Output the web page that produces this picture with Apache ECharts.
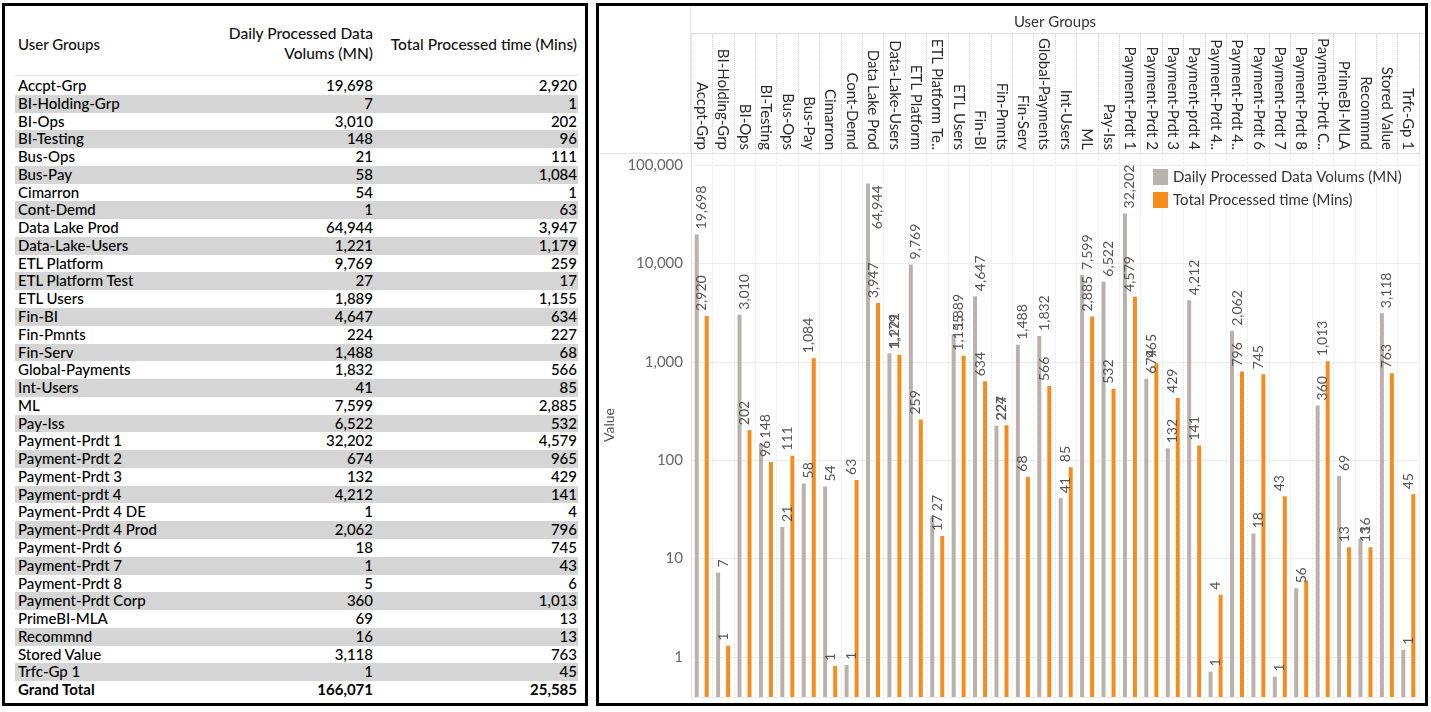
<!DOCTYPE html>
<html>
<head>
<meta charset="utf-8">
<script src="https://cdn.jsdelivr.net/npm/echarts@6/dist/echarts.min.js"></script>
<style>
html,body{margin:0;padding:0;width:1431px;height:712px;overflow:hidden;background:#fff;font-family:Lato,"Noto Sans",sans-serif;}
.panel{position:absolute;border:3px solid #000;box-sizing:border-box;}
#tbl{position:absolute;left:0;top:0;width:600px;height:712px;}
.row{position:absolute;left:15px;width:563px;height:17.77px;line-height:17.77px;font-size:15px;font-weight:500;color:#000;white-space:nowrap;}
.row span{position:absolute;top:0;}
.hdr{position:absolute;font-size:15.5px;font-weight:500;color:#111;white-space:nowrap;line-height:20px;}
#chart{position:absolute;left:0;top:0;width:1431px;height:712px;}
</style>
</head>
<body>
<div class="panel" style="left:2px;top:3px;width:586px;height:703px;"></div>
<div class="panel" style="left:596px;top:3px;width:832px;height:703px;"></div>
<div id="tbl"></div>
<div id="chart"></div>
<script>
// ---------- data ----------
const groups = ['Accpt-Grp','BI-Holding-Grp','BI-Ops','BI-Testing','Bus-Ops','Bus-Pay','Cimarron','Cont-Demd','Data Lake Prod','Data-Lake-Users','ETL Platform','ETL Platform Test','ETL Users','Fin-BI','Fin-Pmnts','Fin-Serv','Global-Payments','Int-Users','ML','Pay-Iss','Payment-Prdt 1','Payment-Prdt 2','Payment-Prdt 3','Payment-prdt 4','Payment-Prdt 4 DE','Payment-Prdt 4 Prod','Payment-Prdt 6','Payment-Prdt 7','Payment-Prdt 8','Payment-Prdt Corp','PrimeBI-MLA','Recommnd','Stored Value','Trfc-Gp 1'];
const volumes = [19698,7.2,3010,148,21,58,54,0.83,64944,1221,9769,27,1889,4647,224,1488,1832,41,7599,6522,32202,674,132,4212,0.71,2062,18,0.63,5,360,69,16,3118,1.18];
const times = [2920,1.3,202,96,111,1084,0.81,63,3947,1179,259,17,1155,634,227,68,566,85,2885,532,4579,965,429,141,4.3,796,745,43,6,1013,13,13,763,45];
const grandTotals = [166071, 25585];
const seriesNames = ['Daily Processed Data Volums (MN)', 'Total Processed time (Mins)'];
const tableHeaders = ['User Groups', 'Daily Processed Data\nVolums (MN)', 'Total Processed time (Mins)'];
const grandLabel = 'Grand Total';

const fmt = v => Math.round(v).toLocaleString('en-US');

// ---------- table ----------
const tbl = document.getElementById('tbl');
function addHdr(text, style){
  const d = document.createElement('div');
  d.className = 'hdr';
  d.innerHTML = text.replace('\n','<br>');
  Object.assign(d.style, style);
  tbl.appendChild(d);
}
addHdr(tableHeaders[0], {left:'18px', top:'34px', fontSize:'15px'});
addHdr(tableHeaders[1], {right:(600-373)+'px', top:'23px', textAlign:'right'});
addHdr(tableHeaders[2], {right:(600-577)+'px', top:'34px', textAlign:'right'});
const hl = document.createElement('div');
Object.assign(hl.style,{position:'absolute',left:'15px',top:'75px',width:'563px',height:'1px',background:'#e2e2e2'});
tbl.appendChild(hl);
const rowsData = groups.map((g,i)=>[g, volumes[i], times[i]]);
rowsData.push([grandLabel, grandTotals[0], grandTotals[1]]);
rowsData.forEach((r,i)=>{
  const d = document.createElement('div');
  d.className='row';
  d.style.top = (77 + i*17.77)+'px';
  const isTotal = i === rowsData.length-1;
  if (i % 2 === 1 && !isTotal) d.style.background = '#d5d5d5';
  if (isTotal) d.style.fontWeight = 'bold';
  d.innerHTML = '<span style="left:3px">'+r[0]+'</span>'+
    '<span style="left:0;width:358px;text-align:right">'+fmt(r[1])+'</span>'+
    '<span style="left:0;width:562px;text-align:right">'+fmt(r[2])+'</span>';
  tbl.appendChild(d);
});

// ---------- chart ----------
const chart = echarts.init(document.getElementById('chart'));
const GREY = '#bab0ac', ORANGE = '#f58d1e';
const labelBase = {show:true, position:'top', rotate:90, align:'left', verticalAlign:'middle', distance:5,
  fontFamily:'Lato', fontSize:14, color:'#555', formatter:p=>fmt(p.value)};
function mkData(arr, off){
  return arr.map(v => v > 40000 ? {value:v, label:{position:'insideTop', align:'right', distance:2, offset:[0,off]}} : v);
}
const yMin = 0.392, yMax = 132400;
chart.setOption({
  animation:false,
  grid:{left:691, right:12, top:153, bottom:15},
  legend:{orient:'vertical', left:1148, top:164, itemWidth:15, itemHeight:16, itemGap:7, icon:'rect',
    textStyle:{fontFamily:'Lato', fontSize:15, color:'#333'}, data:seriesNames},
  xAxis:{type:'category', position:'top', data:groups,
    name:'User Groups', nameLocation:'middle', nameGap:123,
    nameTextStyle:{fontFamily:'Lato', fontSize:15, color:'#333'},
    axisLine:{show:true, lineStyle:{color:'#e0e0e0'}},
    axisTick:{show:true, length:120, interval:0, lineStyle:{color:'#d5d5d5', type:'dotted'}},
    axisLabel:{interval:0, rotate:90, margin:3, fontFamily:'Lato', fontSize:15, color:'#2a2a2a',
      width:115, overflow:'truncate', ellipsis:'..'},
    splitLine:{show:true, interval:0, lineStyle:{color:'#e6e6e6', type:'dotted'}}},
  yAxis:{type:'log', logBase:10, min:yMin, max:yMax, startValue:yMin,
    name:'Value', nameLocation:'middle', nameGap:72, nameRotate:90,
    nameTextStyle:{fontFamily:'Lato', fontSize:14, color:'#555'},
    axisLine:{show:true, lineStyle:{color:'#e0e0e0'}}, axisTick:{show:false},
    axisLabel:{fontFamily:'Lato', fontSize:15, color:'#666', margin:8,
      formatter:v=>{const l=Math.log10(v); return Math.abs(l-Math.round(l))<1e-6 ? fmt(Math.pow(10,Math.round(l))) : '';}},
    splitLine:{show:true, lineStyle:{color:'#ececec'}}},
  series:[
    {type:'bar', name:seriesNames[0], data:mkData(volumes,9), barWidth:4, barGap:'150%',
      itemStyle:{color:GREY}, label:Object.assign({}, labelBase, {offset:[0,5]})},
    {type:'bar', name:seriesNames[1], data:mkData(times,-9), barWidth:4, barGap:'150%',
      itemStyle:{color:ORANGE}, label:Object.assign({}, labelBase, {offset:[0,-5]})}
  ],
  graphic:[
    {type:'line', shape:{x1:691, y1:33.5, x2:1424, y2:33.5}, style:{stroke:'#dcdcdc', lineWidth:1}},
    {type:'line', shape:{x1:690.5, y1:7, x2:690.5, y2:153}, style:{stroke:'#e6e6e6', lineWidth:1}},
    {type:'line', shape:{x1:600, y1:153.5, x2:691, y2:153.5}, style:{stroke:'#e6e6e6', lineWidth:1}}
  ]
});
</script>
</body>
</html>
